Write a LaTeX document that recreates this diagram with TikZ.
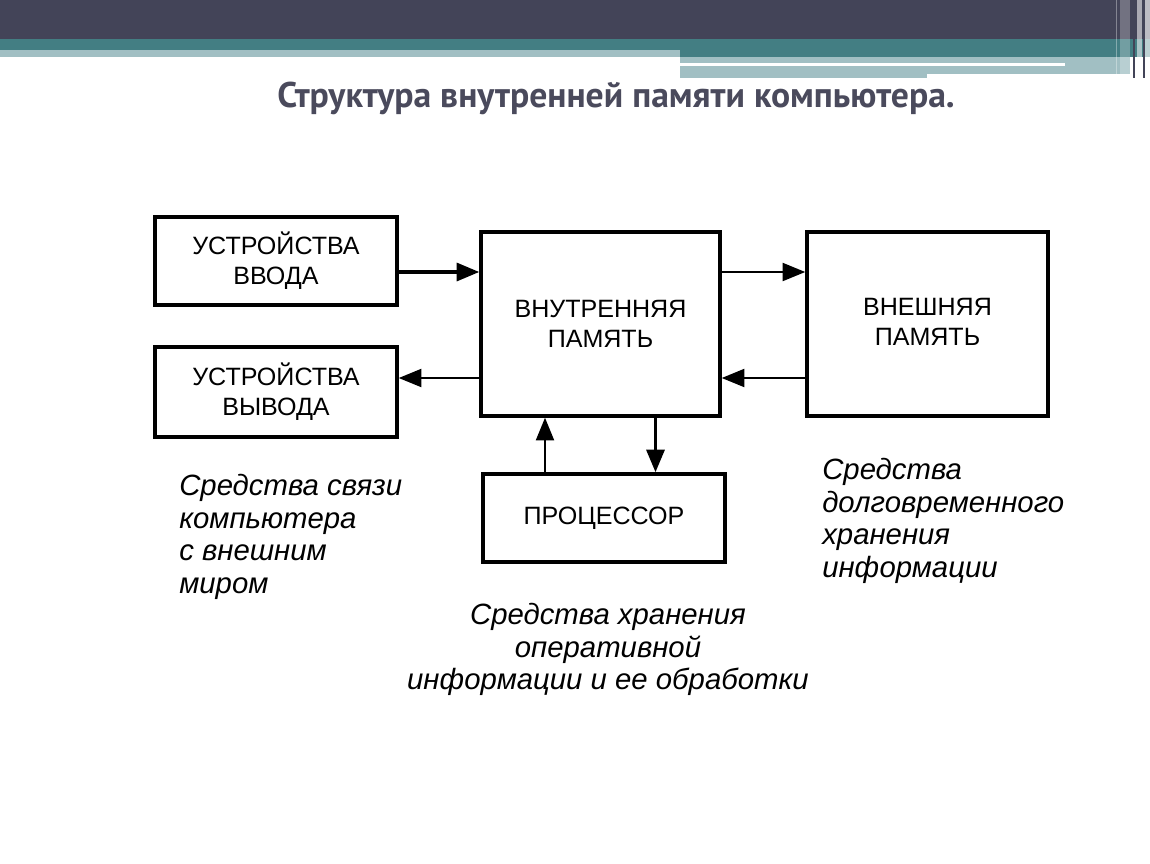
\documentclass[tikz,border=0pt]{standalone}
\usepackage{fontspec}
\setmainfont{Liberation Sans}
\newfontfamily\titlefont{PT Sans}
\usetikzlibrary{arrows.meta}
\definecolor{hdark}{HTML}{434458}
\definecolor{hteal}{HTML}{437E83}
\definecolor{hlight}{HTML}{A1BFC3}
\definecolor{titlecol}{HTML}{4A4A5C}
\tikzset{
  blk/.style={draw=black, line width=2.6pt, inner sep=0pt, align=center,
    font=\fontsize{18.8}{22.5}\selectfont},
  arr/.style={line width=1.6pt, -{Triangle[length=17pt,width=13.5pt]}},
  arrthick/.style={line width=2.5pt, -{Triangle[length=17pt,width=13.5pt]}},
  lbl/.style={inner sep=0pt, font=\fontsize{22}{24.5}\selectfont\itshape}
}
\begin{document}
\begin{tikzpicture}[x=0.75pt,y=-0.75pt]
\useasboundingbox (0,0) rectangle (1150,864);
\fill[white] (0,0) rectangle (1150,864);
% header
\fill[hdark] (0,0) rectangle (1150,39);
\fill[hteal] (0,39) rectangle (1150,57);
\fill[hlight] (0,50) rectangle (680,57);
\fill[hlight] (680,57) rectangle (1130,74);
\fill[white] (680,63) rectangle (1065,66);
\fill[hlight] (680,66) rectangle (927,78);
\fill[white] (927,74) rectangle (1130,78);
% right stripes
\fill[white,opacity=0.35] (1116,0) rectangle (1117,78);
\fill[white,opacity=0.25] (1120,0) rectangle (1130,78);
\fill[hdark] (1133,0) rectangle (1135,78);
\fill[white,opacity=0.55] (1137,0) rectangle (1142,78);
\fill[hdark] (1143,0) rectangle (1145,78);
\fill[white,opacity=0.65] (1145,0) rectangle (1150,78);
% title
\node[text=titlecol, inner sep=0pt] (title) at (616,98)
  {\resizebox{508pt}{!}{\titlefont\bfseries Структура внутренней памяти компьютера.}};
% blocks
\node[blk, minimum width=181.5pt, minimum height=66pt] (inp) at (276,261) {УСТРОЙСТВА\\ВВОДА};
\node[blk, minimum width=181.5pt, minimum height=67.5pt] (out) at (276,392) {УСТРОЙСТВА\\ВЫВОДА};
\node[blk, minimum width=179.25pt, minimum height=138pt] (mem) at (600.5,324) {ВНУТРЕННЯЯ\\ПАМЯТЬ};
\node[blk, minimum width=180.75pt, minimum height=138pt] (ext) at (927.5,324)
  {\raisebox{5.25pt}{\begin{tabular}{@{}c@{}}ВНЕШНЯЯ\\ПАМЯТЬ\end{tabular}}};
\node[blk, minimum width=181.5pt, minimum height=66pt] (proc) at (604,518) {ПРОЦЕССОР};
% connectors
\path (inp.east) ++(0,11) coordinate (a1);
\draw[arrthick] (a1) -- (a1 -| mem.west);
\path (mem.west) ++(0,54) coordinate (a2);
\draw[arr] (a2) -- (a2 -| out.east);
\path (mem.east) ++(0,-52) coordinate (a3);
\draw[arr] (a3) -- (a3 -| ext.west);
\path (ext.west) ++(0,54) coordinate (a4);
\draw[arr] (a4) -- (a4 -| mem.east);
\path (proc.north) ++(-59,0) coordinate (a5);
\draw[arr] (a5) -- (a5 |- mem.south);
\path (mem.south) ++(55,0) coordinate (a6);
\draw[arrthick] (a6) -- (a6 |- proc.north);
% labels
\node[lbl, anchor=north west, align=left] (l1) at (179,474)
  {Средства связи\\компьютера\\с внешним\\миром};
\node[lbl, anchor=north west, align=left] (l2) at (822,458)
  {Средства\\долговременного\\хранения\\информации};
\node[lbl, anchor=north, align=center] (l3) at (608,603)
  {Средства хранения\\оперативной\\информации и ее обработки};
\end{tikzpicture}
\end{document}
